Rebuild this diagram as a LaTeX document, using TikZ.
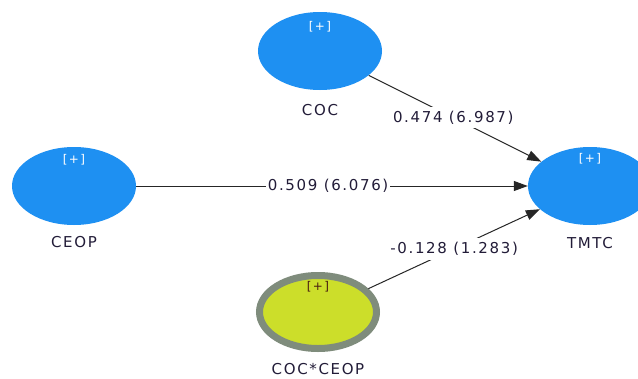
\documentclass[tikz,border=0pt]{standalone}
\usepackage{fontspec}
\setmainfont{DejaVu Sans}[LetterSpace=11]
\usetikzlibrary{arrows.meta,shapes.geometric}
\definecolor{lvblue}{HTML}{1E90F2}
\definecolor{lvyellow}{HTML}{CCDE2A}
\definecolor{lvring}{HTML}{7F8C7C}
\definecolor{txtdark}{HTML}{221C38}
\definecolor{plusdark}{HTML}{4A1E10}
\tikzset{
  lvnode/.style={ellipse, fill=lvblue, draw=none, minimum width=124pt, minimum height=78pt, inner sep=0pt},
  modnode/.style={ellipse, fill=lvyellow, draw=lvring, line width=7pt, minimum width=117pt, minimum height=73pt, inner sep=0pt},
  pluslbl/.style={font=\fontsize{12}{13}\selectfont, text=white, inner sep=0pt},
  plusdlbl/.style={font=\fontsize{12}{13}\selectfont, text=plusdark, inner sep=0pt},
  lvname/.style={font=\fontsize{15}{17}\selectfont, text=txtdark, inner sep=0pt},
  pathline/.style={draw=black!85, line width=1pt, -{Triangle[length=14pt,width=10pt]}},
  coef/.style={font=\fontsize{15}{17}\selectfont, text=txtdark, fill=white, inner xsep=2pt, inner ysep=4pt}
}
\begin{document}
\begin{tikzpicture}[x=1pt,y=-1pt]
\useasboundingbox[fill=white] (0,0) rectangle (638,378);
\node[lvnode] (coc) at (320,51) {};
\node[lvnode] (ceop) at (74,186) {};
\node[lvnode] (tmtc) at (590,186) {};
\node[modnode] (mod) at (318,312) {};
\node[pluslbl] (pcoc) at (320,27) {[+]};
\node[pluslbl] (pceop) at (74,160) {[+]};
\node[pluslbl] (ptmtc) at (590,159) {[+]};
\node[plusdlbl] (pmod) at (318,287) {[+]};
\node[lvname] (ncoc) at (320,110) {COC};
\node[lvname] (nceop) at (74,242) {CEOP};
\node[lvname] (ntmtc) at (590,243) {TMTC};
\node[lvname] (nmod) at (318,369) {COC*CEOP};
\draw[pathline] (coc) -- node[coef, pos=0.49] {0.474 (6.987)} (tmtc);
\draw[pathline] (ceop) -- node[coef, pos=0.49] {0.509 (6.076)} (tmtc);
\draw[pathline] (mod) -- node[coef, pos=0.5] {-0.128 (1.283)} (tmtc);
\end{tikzpicture}
\end{document}
